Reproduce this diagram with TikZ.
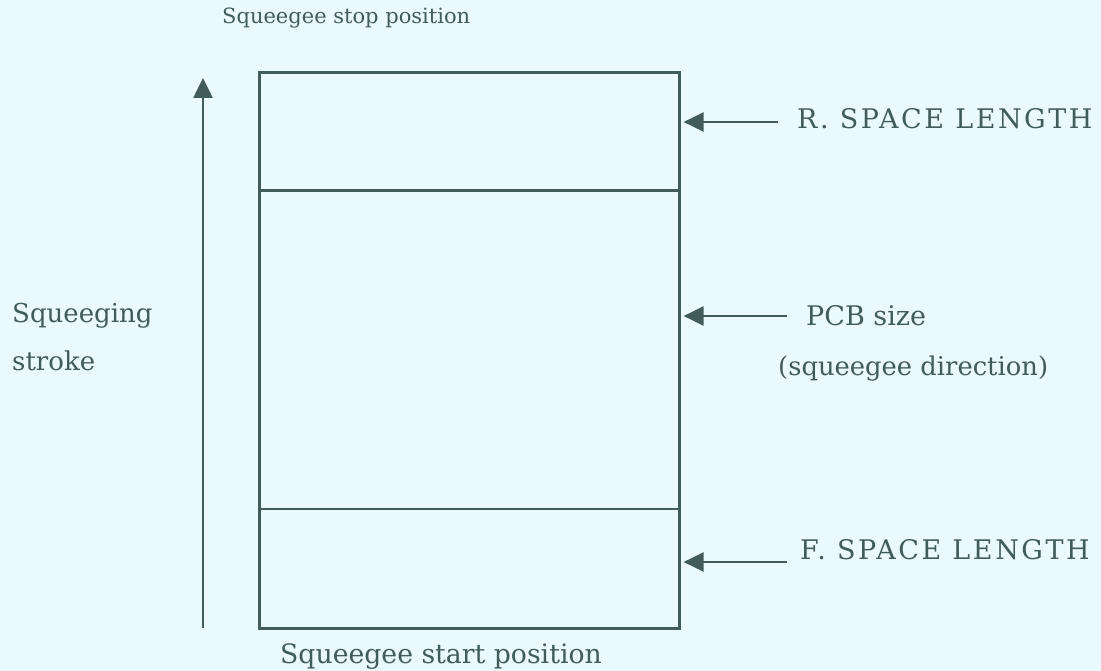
\documentclass[tikz,border=0pt]{standalone}
\usepackage{fontspec}
\setmainfont{DejaVu Serif}
\newfontfamily\capsfont[LetterSpace=9.5]{DejaVu Serif}
\usetikzlibrary{arrows.meta}
\definecolor{ink}{HTML}{425C5A}
\definecolor{bg}{HTML}{EAF9FC}
\tikzset{
  lbl/.style={anchor=base west, inner sep=0pt, text=ink},
  boxline/.style={draw=ink, line width=2.6pt},
  pointer/.style={draw=ink, line width=2.4pt, -{Triangle[length=20pt,width=19pt]}},
}
\begin{document}
\begin{tikzpicture}[x=1pt,y=-1pt]
\fill[bg] (0,0) rectangle (1101,671);
\useasboundingbox (0,0) rectangle (1101,671);
% main box
\node[boxline, minimum width=420pt, minimum height=556pt, inner sep=0pt, anchor=north west] (box) at (258,71) {};
\coordinate (d1) at (258,190.5);
\coordinate (d2) at (258,509);
\draw[boxline, line width=2.4pt] (d1) -- (d1 -| box.east);
\draw[boxline, line width=2.4pt] (d2) -- (d2 -| box.east);
% stroke arrow
\coordinate (sb) at (203,628);
\coordinate (st) at (203,78);
\draw[pointer, line width=2.6pt] (sb) -- (st);
% labels
\node[lbl, font=\fontsize{21}{24}\selectfont] (stop) at (222,24) {Squeegee stop position};
\node[lbl, font=\fontsize{26.7}{28}\selectfont] (start) at (280,663) {Squeegee start position};
\node[lbl, font=\fontsize{26}{28}\selectfont] (sq1) at (12,322) {Squeeging};
\node[lbl, font=\fontsize{26}{28}\selectfont] (sq2) at (12,370) {stroke};
\node[lbl, font=\capsfont\fontsize{27}{28}\selectfont] (rsp) at (797,129) {R. SPACE LENGTH};
\node[lbl, font=\fontsize{27}{28}\selectfont] (pcb) at (806,326) {PCB size};
\node[lbl, font=\fontsize{25.8}{28}\selectfont] (pcbd) at (778,375) {(squeegee direction)};
\node[lbl, font=\capsfont\fontsize{27}{28}\selectfont] (fsp) at (800,559) {F. SPACE LENGTH};
% pointers
\coordinate (ra) at (778,122);
\coordinate (pa) at (787,316);
\coordinate (fa) at (787,562);
\draw[pointer] (ra) -- ([xshift=3pt]ra -| box.east);
\draw[pointer] (pa) -- ([xshift=3pt]pa -| box.east);
\draw[pointer] (fa) -- ([xshift=3pt]fa -| box.east);
\end{tikzpicture}
\end{document}
